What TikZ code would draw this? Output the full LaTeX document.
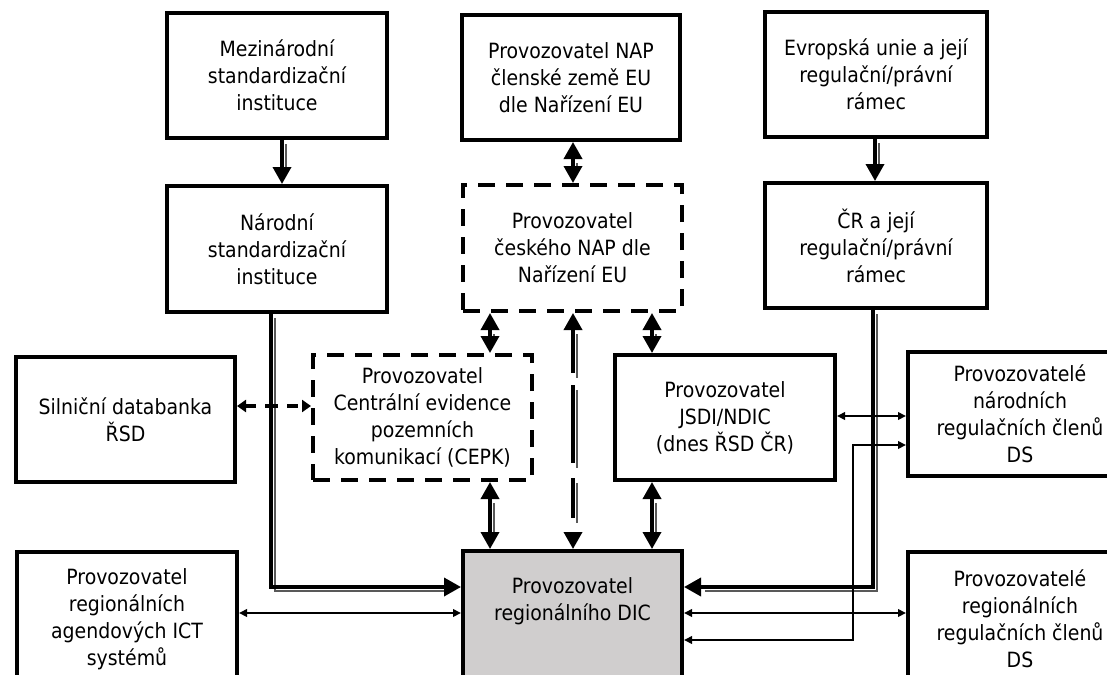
\documentclass[tikz,border=0pt]{standalone}
\usepackage{fontspec}
\setmainfont{DejaVu Sans Condensed}
\usetikzlibrary{arrows.meta}

\definecolor{dicfill}{RGB}{208,206,206}

\tikzset{
  every node/.style={font=\fontsize{21}{27}\selectfont},
  box/.style={draw, line width=4pt, align=center, inner sep=0pt,
              minimum width=220pt, minimum height=125pt},
  dbox/.style={box, dash pattern=on 17pt off 11pt},
  big/.style={line width=3.6pt},
  onetip/.style={arrows={-Triangle[length=17pt,width=18pt]}},
  twotip/.style={arrows={Triangle[length=17pt,width=18pt]-Triangle[length=17pt,width=18pt]}},
  ghost/.style={draw=black!65, line width=1.3pt,
                transform canvas={shift={(4pt,-4pt)}}},
  thinlink/.style={line width=2pt,
                   arrows={Triangle[length=8pt,width=7.5pt]-Triangle[length=8pt,width=7.5pt]}},
  dashlink/.style={line width=3.8pt, dash pattern=on 11pt off 9pt on 13pt off 9pt on 11pt,
                   arrows={Triangle[length=9pt,width=12pt]-Triangle[length=9pt,width=12pt]}},
  longdash/.style={dash pattern=on 44pt off 12pt on 78pt off 15pt on 40pt off 17pt on 60pt}
}

\begin{document}
\begin{tikzpicture}[x=1pt, y=-1pt]
\useasboundingbox (0,0) rectangle (1107,674);
\clip (0,0) rectangle (1107,674);

% ---- boxes ----
\node[box] (mez) at (277,75.5) {Mezinárodní\\standardizační\\instituce};
\node[box, minimum height=126pt] (nar) at (277,249) {Národní\\standardizační\\instituce};
\node[box, minimum width=218pt] (napeu) at (571,77.5) {Provozovatel NAP\\členské země EU\\dle Nařízení EU};
\node[dbox, minimum width=219pt, minimum height=126pt] (napcz) at (572.5,248) {Provozovatel\\českého NAP dle\\Nařízení EU};
\node[box, minimum width=222pt] (eu) at (876,74.5) {Evropská unie a její\\regulační/právní\\rámec};
\node[box, minimum width=222pt] (cr) at (876,245.5) {ČR a její\\regulační/právní\\rámec};
\node[box, minimum width=219pt] (sdb) at (125.5,419.5) {Silniční databanka\\ŘSD};
\node[dbox, minimum width=219pt] (cepk) at (422.5,417.5) {Provozovatel\\Centrální evidence\\pozemních\\komunikací (CEPK)};
\node[box] (jsdi) at (725,417.5) {Provozovatel\\JSDI/NDIC\\(dnes ŘSD ČR)};
\node[box, minimum width=224pt, minimum height=124pt] (nreg) at (1020,414) {Provozovatelé\\národních\\regulačních členů\\DS};
\node[box, minimum height=134pt] (ict) at (127,619) {Provozovatel\\regionálních\\agendových ICT\\systémů};
\node[box, fill=dicfill, minimum width=219pt, minimum height=149pt] (dic) at (572.5,625.5) {};
\node[anchor=north, align=center, inner sep=0pt] (dictext) at ([yshift=-28pt]dic.north) {Provozovatel\\regionálního DIC};
\node[box, minimum width=224pt, minimum height=134pt] (rreg) at (1020,619) {Provozovatelé\\regionálních\\regulačních členů\\DS};

% ---- shadowed one-way links ----
\draw[ghost, shorten >=17pt] ([xshift=5pt]mez.south) -- ([xshift=5pt]nar.north);
\draw[big, onetip] ([xshift=5pt]mez.south) -- ([xshift=5pt]nar.north);

\draw[ghost, shorten >=17pt] ([xshift=-1pt]eu.south) -- ([xshift=-1pt]cr.north);
\draw[big, onetip] ([xshift=-1pt]eu.south) -- ([xshift=-1pt]cr.north);

\draw[ghost, shorten >=17pt] ([xshift=-6pt]nar.south) |- ([yshift=-38pt]dic.north west);
\draw[big, onetip] ([xshift=-6pt]nar.south) |- ([yshift=-38pt]dic.north west);

\draw[ghost, shorten >=17pt] ([xshift=-3pt]cr.south) |- ([yshift=-38pt]dic.north east);
\draw[big, onetip] ([xshift=-3pt]cr.south) |- ([yshift=-38pt]dic.north east);

% ---- shadowed two-way links ----
\draw[ghost, shorten >=17pt, shorten <=17pt] ([xshift=2pt]napeu.south) -- ([xshift=2pt]napeu.south |- napcz.north);
\draw[big, twotip] ([xshift=2pt]napeu.south) -- ([xshift=2pt]napeu.south |- napcz.north);

\draw[ghost, shorten >=17pt, shorten <=17pt] ([xshift=-82.5pt]napcz.south) -- ([xshift=-82.5pt]napcz.south |- cepk.north);
\draw[big, twotip] ([xshift=-82.5pt]napcz.south) -- ([xshift=-82.5pt]napcz.south |- cepk.north);

\draw[ghost, shorten >=17pt, shorten <=17pt] ([xshift=79.5pt]napcz.south) -- ([xshift=79.5pt]napcz.south |- jsdi.north);
\draw[big, twotip] ([xshift=79.5pt]napcz.south) -- ([xshift=79.5pt]napcz.south |- jsdi.north);

\draw[ghost, shorten >=17pt, shorten <=17pt] ([xshift=67.5pt]cepk.south) -- ([xshift=67.5pt]cepk.south |- dic.north);
\draw[big, twotip] ([xshift=67.5pt]cepk.south) -- ([xshift=67.5pt]cepk.south |- dic.north);

\draw[ghost, shorten >=17pt, shorten <=17pt] ([xshift=-73pt]jsdi.south) -- ([xshift=-73pt]jsdi.south |- dic.north);
\draw[big, twotip] ([xshift=-73pt]jsdi.south) -- ([xshift=-73pt]jsdi.south |- dic.north);

\draw[ghost, longdash, shorten >=17pt, shorten <=17pt] ([xshift=0.5pt]napcz.south) -- ([xshift=0.5pt]napcz.south |- dic.north);
\draw[big, twotip, longdash] ([xshift=0.5pt]napcz.south) -- ([xshift=0.5pt]napcz.south |- dic.north);

% ---- dashed link between the road databases ----
\draw[dashlink] ([yshift=13.5pt]sdb.east) -- ([yshift=13.5pt]sdb.east -| cepk.west);

% ---- thin two-way links ----
\draw[thinlink] ([yshift=1.5pt]jsdi.east) -- ([yshift=1.5pt]jsdi.east -| nreg.west);
\draw[thinlink] ([yshift=-64pt]dic.north west) -- ([yshift=-64pt]dic.north west -| ict.east);
\draw[thinlink] ([yshift=-64pt]dic.north east) -- ([yshift=-64pt]dic.north east -| rreg.west);
\draw[thinlink] ([yshift=-91pt]dic.north east) -| ([xshift=-53pt,yshift=-31pt]nreg.west) -- ([yshift=-31pt]nreg.west);
\end{tikzpicture}
\end{document}
